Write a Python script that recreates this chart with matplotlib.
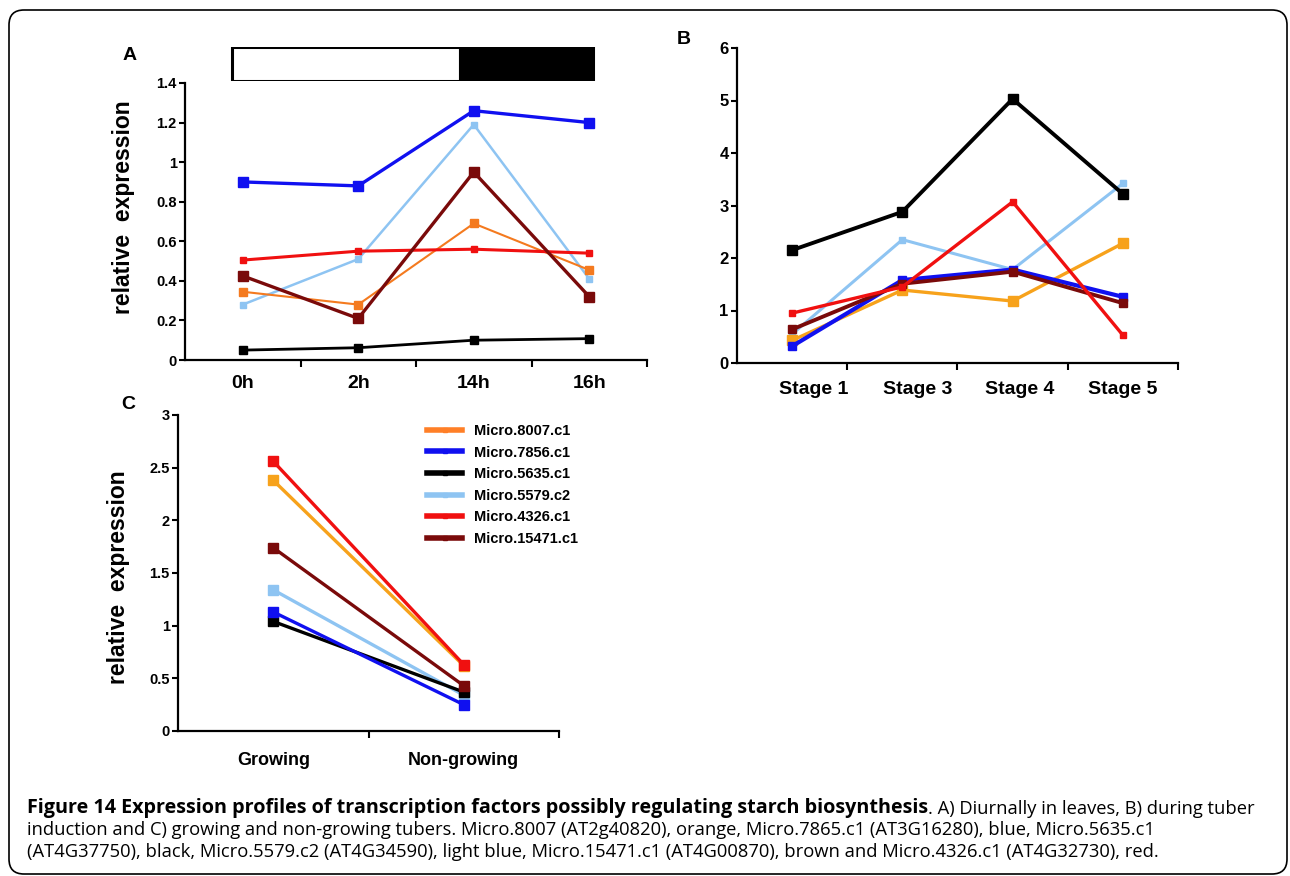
import matplotlib
matplotlib.use('Agg')
import matplotlib.pyplot as plt
from matplotlib.patches import FancyBboxPatch

plt.rcParams['font.family'] = ['Liberation Sans', 'DejaVu Sans']
plt.rcParams['font.weight'] = 'bold'

# series names (legend order) and colours
genes = ['Micro.8007.c1', 'Micro.7856.c1', 'Micro.5635.c1',
         'Micro.5579.c2', 'Micro.4326.c1', 'Micro.15471.c1']
colors = ['#F47A1F', '#1010F0', '#000000', '#8EC4F2', '#F01010', '#7A0A0A']
colors_bc = ['#F7A21B', '#1010F0', '#000000', '#8EC4F2', '#F01010', '#7A0A0A']

# A) diurnal, leaves
hours = ['0h', '2h', '14h', '16h']
a_8007 = [0.345, 0.28, 0.69, 0.455]
a_7856 = [0.90, 0.88, 1.26, 1.20]
a_5635 = [0.05, 0.062, 0.10, 0.108]
a_5579 = [0.28, 0.51, 1.19, 0.41]
a_4326 = [0.505, 0.55, 0.56, 0.54]
a_15471 = [0.425, 0.21, 0.95, 0.32]
# light / dark period bar above panel A (start, end in category units)
light_period = (-0.09, 1.88)
dark_period = (1.88, 3.03)

# B) tuber induction
stages = ['Stage 1', 'Stage 3', 'Stage 4', 'Stage 5']
b_8007 = [0.43, 1.39, 1.18, 2.28]
b_7856 = [0.32, 1.58, 1.78, 1.26]
b_5635 = [2.15, 2.88, 5.03, 3.22]
b_5579 = [0.55, 2.35, 1.78, 3.42]
b_4326 = [0.95, 1.45, 3.07, 0.53]
b_15471 = [0.64, 1.51, 1.74, 1.14]
# the stage labels sit a little off their points in the original
stage_label_pos = [0.2, 1.14, 2.06, 3.0]

# C) growing vs non-growing tubers
tubers = ['Growing', 'Non-growing']
c_8007 = [2.38, 0.62]
c_7856 = [1.13, 0.25]
c_5635 = [1.04, 0.37]
c_5579 = [1.34, 0.34]
c_4326 = [2.56, 0.63]
c_15471 = [1.74, 0.43]

W, H = 1290, 876
fig = plt.figure(figsize=(W / 100, H / 100), dpi=100)


def box(x0, y0, x1, y1):
    # pixel box (top-left origin) -> figure fraction rect
    return [x0 / W, 1 - y1 / H, (x1 - x0) / W, (y1 - y0) / H]


def style_axes(ax, cats, xfs, xpad, yfs, label_pos=None):
    n = len(cats)
    ax.set_xlim(-0.5, n - 0.5)
    ax.set_xticks(label_pos if label_pos else range(n))
    ax.set_xticklabels(cats, fontsize=xfs, fontweight='bold')
    ax.set_xticks([i + 0.5 for i in range(n)], minor=True)
    ax.tick_params(axis='x', which='major', length=0, pad=xpad)
    ax.tick_params(axis='x', which='minor', length=5, width=1.5, direction='out')
    ax.tick_params(axis='y', length=4, width=1.5, direction='out', pad=2, labelsize=yfs)
    for lab in ax.get_yticklabels():
        lab.set_fontweight('bold')
    for s in ['top', 'right']:
        ax.spines[s].set_visible(False)
    for s in ['left', 'bottom']:
        ax.spines[s].set_linewidth(1.6)


# ---- panel A
axA = fig.add_axes(box(185, 83, 647, 360))
xa = range(len(hours))
axA.plot(xa, a_5579, color=colors[3], lw=1.8, marker='s', ms=4, zorder=2)
axA.plot(xa, a_8007, color=colors[0], lw=1.5, marker='s', ms=6, zorder=3)
axA.plot(xa, a_4326, color=colors[4], lw=2.2, marker='s', ms=4, zorder=3)
axA.plot(xa, a_15471, color=colors[5], lw=2.4, marker='s', ms=6.5, zorder=4)
axA.plot(xa, a_5635, color=colors[2], lw=2.0, marker='s', ms=6, zorder=4)
axA.plot(xa, a_7856, color=colors[1], lw=2.4, marker='s', ms=6.5, zorder=5)
axA.set_ylim(0, 1.4)
axA.set_yticks([0, 0.2, 0.4, 0.6, 0.8, 1, 1.2, 1.4])
axA.set_yticklabels(['0', '0.2', '0.4', '0.6', '0.8', '1', '1.2', '1.4'])
style_axes(axA, hours, 14, 11, 10.5)
axA.set_ylabel('relative  expression', fontsize=16.5, fontweight='bold')
axA.yaxis.set_label_coords(-0.108, 0.55)

axBar = fig.add_axes(box(185, 47, 647, 81))
axBar.set_xlim(-0.5, len(hours) - 0.5)
axBar.set_ylim(0, 1)
axBar.barh(0.5, light_period[1] - light_period[0], left=light_period[0], height=1,
           color='white', edgecolor='black', lw=2.2)
axBar.barh(0.5, dark_period[1] - dark_period[0], left=dark_period[0], height=1,
           color='black', edgecolor='black', lw=2.2)
axBar.axis('off')

# ---- panel B
axB = fig.add_axes(box(737, 48, 1178, 363))
xb = range(len(stages))
axB.plot(xb, b_5579, color=colors_bc[3], lw=2.2, marker='s', ms=4, zorder=2)
axB.plot(xb, b_8007, color=colors_bc[0], lw=2.4, marker='s', ms=6.5, zorder=3)
axB.plot(xb, b_7856, color=colors_bc[1], lw=3.0, marker='s', ms=6, zorder=3)
axB.plot(xb, b_15471, color=colors_bc[5], lw=2.8, marker='s', ms=6, zorder=4)
axB.plot(xb, b_4326, color=colors_bc[4], lw=2.4, marker='s', ms=4.5, zorder=5)
axB.plot(xb, b_5635, color=colors_bc[2], lw=2.8, marker='s', ms=7, zorder=5)
axB.set_ylim(0, 6)
axB.set_yticks(range(7))
style_axes(axB, stages, 14, 13, 12, label_pos=stage_label_pos)

# ---- panel C
axC = fig.add_axes(box(178, 415, 559, 731))
xc = range(len(tubers))
c_series = [c_8007, c_7856, c_5635, c_5579, c_4326, c_15471]
order = [3, 2, 1, 5, 0, 4]
for i in order:
    axC.plot(xc, c_series[i], color=colors_bc[i], lw=2.4, marker='s', ms=6.5,
             zorder=2 + order.index(i))
axC.set_ylim(0, 3)
axC.set_yticks([0, 0.5, 1, 1.5, 2, 2.5, 3])
axC.set_yticklabels(['0', '0.5', '1', '1.5', '2', '2.5', '3'])
style_axes(axC, tubers, 13, 15, 10.5)
axC.set_ylabel('relative  expression', fontsize=16.5, fontweight='bold')
axC.yaxis.set_label_coords(-0.126, 0.486)

leg_handles = []
for i in range(6):
    h, = axC.plot([], [], color=colors[i] if i != 0 else '#FF7F27', lw=4,
                  marker='s', ms=3)
    leg_handles.append(h)
leg = fig.legend(leg_handles, genes, loc='upper left',
                 bbox_to_anchor=(427 / W, 1 - 424 / H), frameon=False,
                 prop={'weight': 'bold', 'size': 10.5}, handlelength=2.4,
                 handletextpad=0.8, labelspacing=0.52, borderpad=0,
                 borderaxespad=0, markerscale=1)

# panel letters
fig.text(130 / W, 1 - 56 / H, 'A', fontsize=14, fontweight='bold', ha='center', va='center')
fig.text(684 / W, 1 - 40 / H, 'B', fontsize=14, fontweight='bold', ha='center', va='center')
fig.text(128 / W, 1 - 405 / H, 'C', fontsize=14, fontweight='bold', ha='center', va='center')

# caption
cap_font = ['Open Sans', 'DejaVu Sans']
cap_size = 13.2
t1 = fig.text(27 / W, 1 - 813 / H,
              'Figure 14 Expression profiles of transcription factors possibly regulating starch biosynthesis',
              fontsize=14.2, fontweight='bold', family=cap_font, va='baseline')
axC.annotate('. A) Diurnally in leaves, B) during tuber', xy=(1, 0), xycoords=t1,
             va='bottom', ha='left', fontsize=cap_size, fontweight='normal', family=cap_font)
fig.text(27 / W, 1 - 835 / H,
         'induction and C) growing and non-growing tubers. Micro.8007 (AT2g40820), orange, '
         'Micro.7865.c1 (AT3G16280), blue, Micro.5635.c1',
         fontsize=cap_size, fontweight='normal', family=cap_font, va='baseline')
fig.text(27 / W, 1 - 857 / H,
         '(AT4G37750), black, Micro.5579.c2 (AT4G34590), light blue, Micro.15471.c1 '
         '(AT4G00870), brown and Micro.4326.c1 (AT4G32730), red.',
         fontsize=cap_size, fontweight='normal', family=cap_font, va='baseline')

# rounded border
frame = FancyBboxPatch((9 / W, 1 - 874 / H), 1278 / W, 864 / H,
                       boxstyle='round,pad=0,rounding_size=0.0116',
                       mutation_aspect=W / H, transform=fig.transFigure,
                       facecolor='none', edgecolor='black', lw=1.2)
fig.add_artist(frame)

fig.savefig('out.png', dpi=100)
